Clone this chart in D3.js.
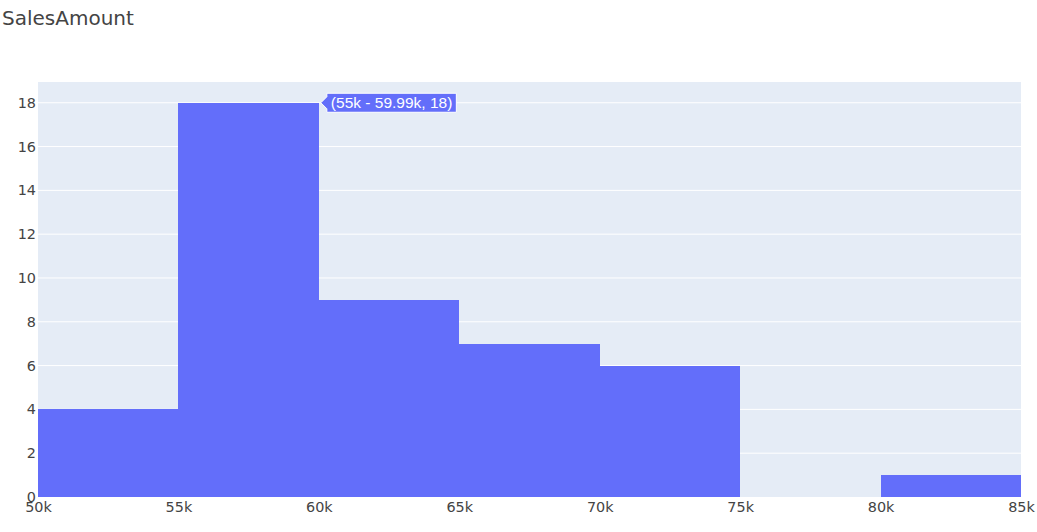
<!DOCTYPE html>
<html>
<head>
<meta charset="utf-8">
<script src="https://cdn.jsdelivr.net/npm/d3@7"></script>
<style>
  body { margin: 0; background: #fff; }
  text { font-family: "DejaVu Sans", Verdana, sans-serif; }
  text.hovertext { font-family: "Liberation Sans", Arial, sans-serif; }
</style>
</head>
<body>
<script>
// histogram bins (lower edge, upper edge) and counts
var binStart = [50000, 55000, 60000, 65000, 70000, 75000, 80000];
var binEnd   = [55000, 60000, 65000, 70000, 75000, 80000, 85000];
var counts   = [4, 18, 9, 7, 6, 0, 1];

var xTicks = [50000, 55000, 60000, 65000, 70000, 75000, 80000, 85000];
var yTicks = [0, 2, 4, 6, 8, 10, 12, 14, 16, 18];

var hoverBin = 1;
var hoverText = "(55k - 59.99k, 18)";

var W = 1037, H = 532;
var margin = {left: 38, right: 16, top: 82, bottom: 35};

var svg = d3.select("body").append("svg")
    .attr("width", W)
    .attr("height", H);

var x = d3.scaleLinear()
    .domain([50000, 85000])
    .range([margin.left, W - margin.right]);

var y = d3.scaleLinear()
    .domain([0, 18 / 0.95])
    .range([H - margin.bottom, margin.top]);

//plot background
svg.append("rect")
    .attr("x", x.range()[0])
    .attr("y", y.range()[1])
    .attr("width", x.range()[1] - x.range()[0])
    .attr("height", y.range()[0] - y.range()[1])
    .attr("fill", "#e5ecf6");

//grid lines
svg.append("g").selectAll("line")
    .data(yTicks.filter(function(d) { return d > 0; }))
    .enter().append("line")
    .attr("x1", x.range()[0])
    .attr("x2", x.range()[1])
    .attr("y1", function(d) { return y(d); })
    .attr("y2", function(d) { return y(d); })
    .attr("stroke", "#fff")
    .attr("stroke-width", 1);

//bars
var bins = counts.map(function(c, i) { return {x0: binStart[i], x1: binEnd[i], n: c}; });
svg.append("g").selectAll("rect")
    .data(bins.filter(function(d) { return d.n > 0; }))
    .enter().append("rect")
    .attr("x", function(d) { return Math.round(x(d.x0)); })
    .attr("y", function(d) { return y(d.n); })
    .attr("width", function(d) { return Math.round(x(d.x1)) - Math.round(x(d.x0)); })
    .attr("height", function(d) { return y(0) - y(d.n); })
    .attr("fill", "#636efa")
    .attr("shape-rendering", "crispEdges");

//x axis
var xAxis = d3.axisBottom(x)
    .tickValues(xTicks)
    .tickSize(0)
    .tickPadding(5)
    .tickFormat(function(d) { return (d / 1000) + "k"; });
var gx = svg.append("g")
    .attr("transform", "translate(0," + y(0) + ")")
    .call(xAxis);
gx.select(".domain").remove();
gx.selectAll("text")
    .attr("fill", "#444")
    .attr("font-family", null)
    .attr("font-size", 14.4);
gx.attr("font-family", null);

//y axis
var yAxis = d3.axisLeft(y)
    .tickValues(yTicks)
    .tickSize(0)
    .tickPadding(2);
var gy = svg.append("g")
    .attr("transform", "translate(" + x.range()[0] + ",0)")
    .call(yAxis);
gy.select(".domain").remove();
gy.selectAll("text")
    .attr("fill", "#444")
    .attr("font-size", 14.4);
gy.attr("font-family", null);

//title
svg.append("text")
    .attr("x", 2)
    .attr("y", 25)
    .attr("fill", "#444")
    .attr("font-size", 20)
    .text("SalesAmount");

//hover label
var hx = x(binEnd[hoverBin]) + 2, hy = y(counts[hoverBin]);
var hover = svg.append("g").attr("transform", "translate(" + hx + "," + hy + ")");
var ht = hover.append("text")
    .attr("class", "hovertext")
    .attr("x", 10)
    .attr("y", 5.5)
    .attr("fill", "#fff")
    .attr("font-size", 15.5)
    .text(hoverText);
var tw = ht.node().getComputedTextLength();
hover.insert("path", "text")
    .attr("d", "M0,0L6,-6L6,-9.5L" + (tw + 14) + ",-9.5L" + (tw + 14) + ",9.5L6,9.5L6,6Z")
    .attr("fill", "#636efa")
    .attr("stroke", "#fff")
    .attr("stroke-width", 1);
</script>
</body>
</html>
